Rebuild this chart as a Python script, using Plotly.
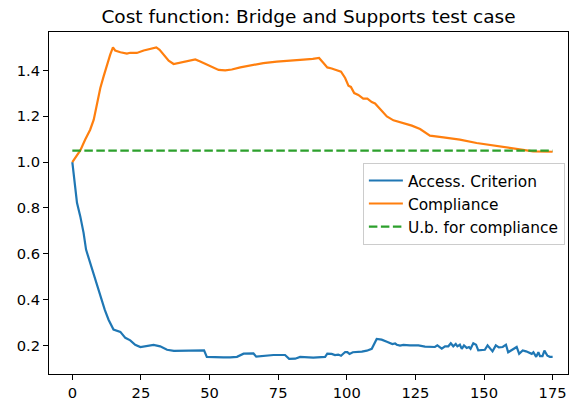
import plotly.graph_objects as go

# Iteration history of the two cost terms
access_iter = [0, 0.5, 1.1, 1.7, 2.9, 4.1, 5.0, 6.5, 8.4, 10.2, 11.8, 13.2, 15.0, 17.5, 19.3,
               21.1, 22.9, 24.8, 27.2, 29.6, 32.0, 34.5, 37, 40, 42, 44, 46, 48, 49, 50.5,
               53, 55, 57.5, 60.0, 62.4, 66.0, 67.0, 69.6, 73.3, 77.5, 79.0, 81.2, 83.0,
               87.8, 92.1, 92.9, 94.5, 95.7, 96.9, 97.9, 99.4, 100.2, 101.0, 102.2, 103.4,
               105.5, 107.3, 109.1, 110.9, 112.7, 114.6, 116.6, 117.6, 118.2, 119.4, 120.6,
               123.0, 126.1, 128.5, 132.1, 133.0, 134.6, 135.8, 137.0, 137.9, 138.8, 139.7,
               140.3, 141.2, 141.9, 142.7, 143.7, 144.5, 145.1, 146.1, 147.1, 147.9, 149.1,
               150.3, 151.3, 152.2, 153.1, 154.3, 155.4, 156.8, 158.0, 158.8, 160.0, 161.0,
               161.9, 162.8, 164.1, 165.3, 166.5, 167.4, 168.0, 169.0, 169.8, 170.4, 171.3,
               172.0, 173.1, 174.0, 175.0]
access_vals = [1.000, 0.938, 0.880, 0.822, 0.763, 0.691, 0.618, 0.560, 0.487, 0.414, 0.356,
               0.312, 0.269, 0.259, 0.233, 0.222, 0.203, 0.193, 0.196, 0.202, 0.196, 0.181,
               0.176, 0.177, 0.175, 0.178, 0.176, 0.178, 0.150, 0.149, 0.150, 0.148, 0.148,
               0.150, 0.164, 0.165, 0.151, 0.155, 0.158, 0.158, 0.141, 0.142, 0.150, 0.147,
               0.150, 0.164, 0.163, 0.158, 0.160, 0.155, 0.171, 0.171, 0.163, 0.170, 0.170,
               0.173, 0.177, 0.185, 0.228, 0.225, 0.216, 0.206, 0.209, 0.203, 0.199, 0.202,
               0.200, 0.200, 0.195, 0.193, 0.200, 0.186, 0.196, 0.196, 0.209, 0.196, 0.206,
               0.196, 0.203, 0.185, 0.200, 0.189, 0.193, 0.185, 0.209, 0.203, 0.178, 0.181,
               0.181, 0.200, 0.189, 0.174, 0.200, 0.191, 0.193, 0.203, 0.170, 0.178, 0.185,
               0.193, 0.163, 0.178, 0.174, 0.167, 0.163, 0.170, 0.150, 0.170, 0.153, 0.153,
               0.177, 0.155, 0.150, 0.150]

compliance_iter = [0, 1.1, 2.9, 4.7, 6.5, 7.8, 9.0, 10.2, 11.4, 12.6, 13.8, 14.8, 15.6, 17.5,
                   19.9, 21.1, 23.5, 26.0, 28.4, 30.6, 31.8, 33.2, 35.1, 36.9, 40.5, 44.8,
                   46.6, 50.2, 53.3, 55.7, 58.1, 61.2, 64.8, 69.6, 74.5, 79.4, 84.2, 87.6,
                   89.9, 91.5, 92.9, 94.5, 96.4, 97.9, 99.4, 100.6, 101.5, 102.7, 104.2,
                   106.0, 107.5, 109.1, 110.3, 112.1, 114.6, 117.0, 120.6, 123.7, 126.7,
                   129.1, 130.3, 135.2, 141.2, 147.3, 152.2, 158.2, 164.3, 167.9, 175.0]
compliance_vals = [1.000, 1.018, 1.051, 1.098, 1.141, 1.185, 1.258, 1.323, 1.374, 1.425,
                   1.469, 1.500, 1.487, 1.479, 1.473, 1.477, 1.476, 1.487, 1.495, 1.500,
                   1.490, 1.469, 1.442, 1.428, 1.437, 1.448, 1.439, 1.418, 1.402, 1.400,
                   1.404, 1.413, 1.421, 1.432, 1.438, 1.441, 1.447, 1.450, 1.454, 1.432,
                   1.413, 1.408, 1.400, 1.394, 1.367, 1.333, 1.328, 1.301, 1.293, 1.277,
                   1.277, 1.262, 1.256, 1.232, 1.199, 1.182, 1.171, 1.159, 1.144, 1.124,
                   1.115, 1.108, 1.098, 1.083, 1.075, 1.064, 1.054, 1.047, 1.045]

bound_iter = [0, 175]
bound_vals = [1.05, 1.05]

x_ticks = [0, 25, 50, 75, 100, 125, 150, 175]
y_ticks = [0.2, 0.4, 0.6, 0.8, 1.0, 1.2, 1.4]
y_tick_text = ["0.2", "0.4", "0.6", "0.8", "1.0", "1.2", "1.4"]

FONT = "DejaVu Sans"
LW = 2.2

fig = go.Figure()
fig.add_trace(go.Scatter(x=access_iter, y=access_vals, mode="lines", name="Access. Criterion",
                         legendgroup="a", line=dict(color="#1f77b4", width=LW)))
fig.add_trace(go.Scatter(x=compliance_iter, y=compliance_vals, mode="lines", name="Compliance",
                         legendgroup="b", line=dict(color="#ff7f0e", width=LW)))
fig.add_trace(go.Scatter(x=bound_iter, y=bound_vals, mode="lines", name="U.b. for compliance",
                         legendgroup="c",
                         line=dict(color="#2ca02c", width=LW, dash="8.5px,3.5px")))

axis_common = dict(showgrid=False, zeroline=False, showline=True, mirror=True,
                   linecolor="black", linewidth=1, ticks="outside", ticklen=5,
                   tickwidth=1, tickcolor="black",
                   tickfont=dict(family=FONT, size=14.7, color="black"))

fig.update_layout(
    width=569, height=403,
    margin=dict(l=49, r=1, t=32, b=29),
    paper_bgcolor="white", plot_bgcolor="white",
    title=dict(text="Cost function: Bridge and Supports test case",
               font=dict(family=FONT, size=18.5, color="black"),
               x=0.5, xref="paper", xanchor="center",
               y=1 - 16.5 / 403, yanchor="middle"),
    xaxis=dict(range=[-8.5, 180.6], tickvals=x_ticks, **axis_common),
    yaxis=dict(range=[0.0752, 1.5675], tickvals=y_ticks, ticktext=y_tick_text, **axis_common),
    legend=dict(x=0.994, xanchor="right", y=0.617, yanchor="top",
                bgcolor="rgba(255,255,255,0.8)", bordercolor="#cccccc", borderwidth=1,
                font=dict(family=FONT, size=15.4, color="black"),
                tracegroupgap=0, itemwidth=34),
)

fig.write_html("out.html")
